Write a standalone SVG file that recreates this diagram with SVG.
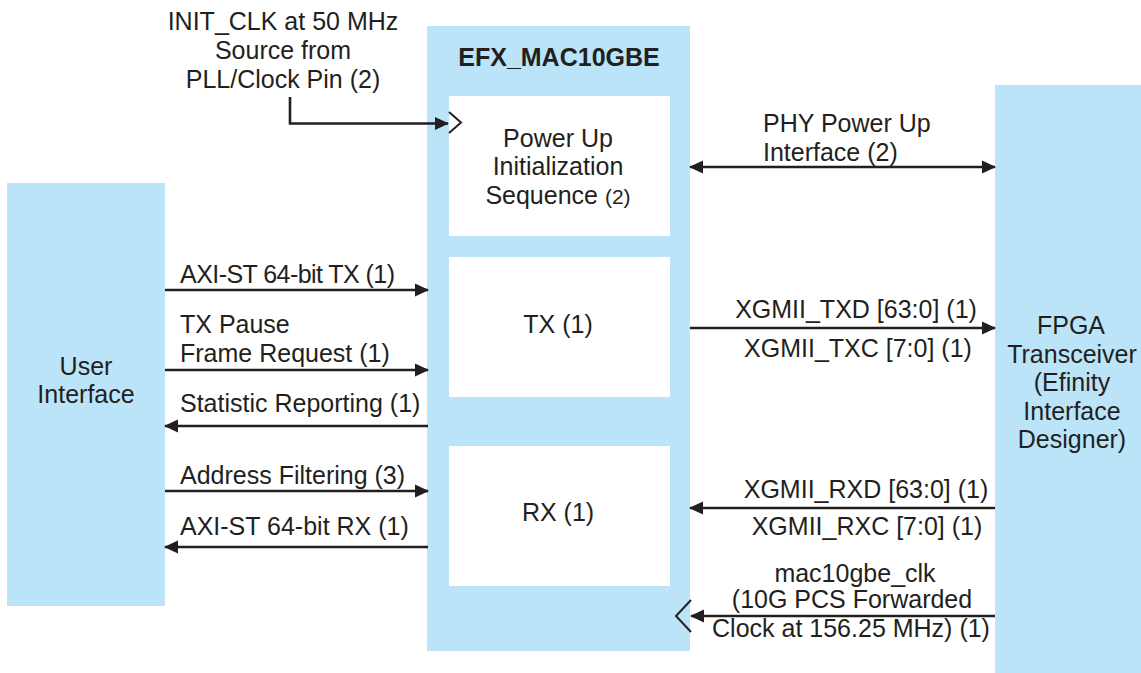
<svg xmlns="http://www.w3.org/2000/svg" width="1141" height="673" viewBox="0 0 1141 673">
  <style>
    .blk { fill: #bbe4f9; }
    .sub { fill: #ffffff; }
    .t { font-family: "Liberation Sans", Arial, sans-serif; font-size: 25px; fill: #231f20; }
    .c { text-anchor: middle; }
    .b { font-weight: bold; }
    .w { stroke: #231f20; stroke-width: 2.6; fill: none; }
    .clk { stroke: #231f20; stroke-width: 2; fill: none; }
  </style>
  <defs>
    <marker id="ah" markerUnits="userSpaceOnUse" markerWidth="14" markerHeight="14" viewBox="0 0 14 14" refX="13" refY="7" orient="auto-start-reverse">
      <path d="M0,0.5 L14,7 L0,13.5 Z" fill="#231f20"/>
    </marker>
  </defs>
  <rect width="1141" height="673" fill="#ffffff"/>

  <!-- User interface block -->
  <g id="user-interface">
    <rect class="blk" x="7" y="183" width="158" height="423"/>
    <text class="t c" x="86" y="375">User</text>
    <text class="t c" x="86" y="403">Interface</text>
  </g>

  <!-- MAC core with its sub-blocks -->
  <g id="efx-mac10gbe">
    <rect class="blk" x="427" y="26" width="263" height="625"/>
    <text class="t c b" x="559" y="66">EFX_MAC10GBE</text>
  </g>
  <g id="power-up-init">
    <rect class="sub" x="449" y="96" width="221" height="140"/>
    <text class="t c" x="558" y="147">Power Up</text>
    <text class="t c" x="558" y="175">Initialization</text>
    <text class="t c" x="558" y="204">Sequence <tspan font-size="21">(2)</tspan></text>
    <path class="clk" d="M449,112 L461,122.5 L449,133"/>
  </g>
  <g id="tx">
    <rect class="sub" x="449" y="257" width="221" height="140"/>
    <text class="t c" x="558" y="333">TX (1)</text>
  </g>
  <g id="rx">
    <rect class="sub" x="449" y="446" width="221" height="140"/>
    <text class="t c" x="558" y="521">RX (1)</text>
    <path class="clk" d="M691,600 L676,616 L691,632"/>
  </g>

  <!-- Transceiver block -->
  <g id="fpga-transceiver">
    <rect class="blk" x="995" y="85" width="146" height="588"/>
    <text class="t c" x="1071" y="334">FPGA</text>
    <text class="t c" x="1072" y="363">Transceiver</text>
    <text class="t c" x="1072" y="391">(Efinity</text>
    <text class="t c" x="1072" y="420">Interface</text>
    <text class="t c" x="1072" y="448">Designer)</text>
  </g>

  <!-- Connectors -->
  <g id="connectors">
    <path class="w" d="M290,97 V123.5 H448" marker-end="url(#ah)"/>
    <line class="w" x1="165" y1="290" x2="428" y2="290" marker-end="url(#ah)"/>
    <line class="w" x1="165" y1="370" x2="428" y2="370" marker-end="url(#ah)"/>
    <line class="w" x1="428" y1="426" x2="165" y2="426" marker-end="url(#ah)"/>
    <line class="w" x1="165" y1="491" x2="428" y2="491" marker-end="url(#ah)"/>
    <line class="w" x1="428" y1="547" x2="165" y2="547" marker-end="url(#ah)"/>
    <line class="w" x1="690" y1="167" x2="995" y2="167" marker-start="url(#ah)" marker-end="url(#ah)"/>
    <line class="w" x1="690" y1="328" x2="995" y2="328" marker-end="url(#ah)"/>
    <line class="w" x1="995" y1="508" x2="690" y2="508" marker-end="url(#ah)"/>
    <line class="w" x1="995" y1="616" x2="691" y2="616" marker-end="url(#ah)"/>
  </g>

  <!-- Connector labels -->
  <g id="labels">
    <text class="t c" x="283" y="30">INIT_CLK at 50 MHz</text>
    <text class="t c" x="283" y="59">Source from</text>
    <text class="t c" x="283" y="88">PLL/Clock Pin (2)</text>
    <text class="t" x="180" y="283" textLength="215">AXI-ST 64-bit TX (1)</text>
    <text class="t" x="180" y="333">TX Pause</text>
    <text class="t" x="180" y="362">Frame Request (1)</text>
    <text class="t" x="180" y="412">Statistic Reporting (1)</text>
    <text class="t" x="180" y="484">Address Filtering (3)</text>
    <text class="t" x="180" y="535">AXI-ST 64-bit RX (1)</text>
    <text class="t" x="763" y="132">PHY Power Up</text>
    <text class="t" x="763" y="161">Interface (2)</text>
    <text class="t c" x="856" y="318">XGMII_TXD [63:0] (1)</text>
    <text class="t c" x="858" y="357">XGMII_TXC [7:0] (1)</text>
    <text class="t c" x="866" y="498">XGMII_RXD [63:0] (1)</text>
    <text class="t c" x="867" y="535">XGMII_RXC [7:0] (1)</text>
    <text class="t c" x="855" y="582">mac10gbe_clk</text>
    <text class="t c" x="852" y="608">(10G PCS Forwarded</text>
    <text class="t c" x="851" y="637">Clock at 156.25 MHz) (1)</text>
  </g>
</svg>
